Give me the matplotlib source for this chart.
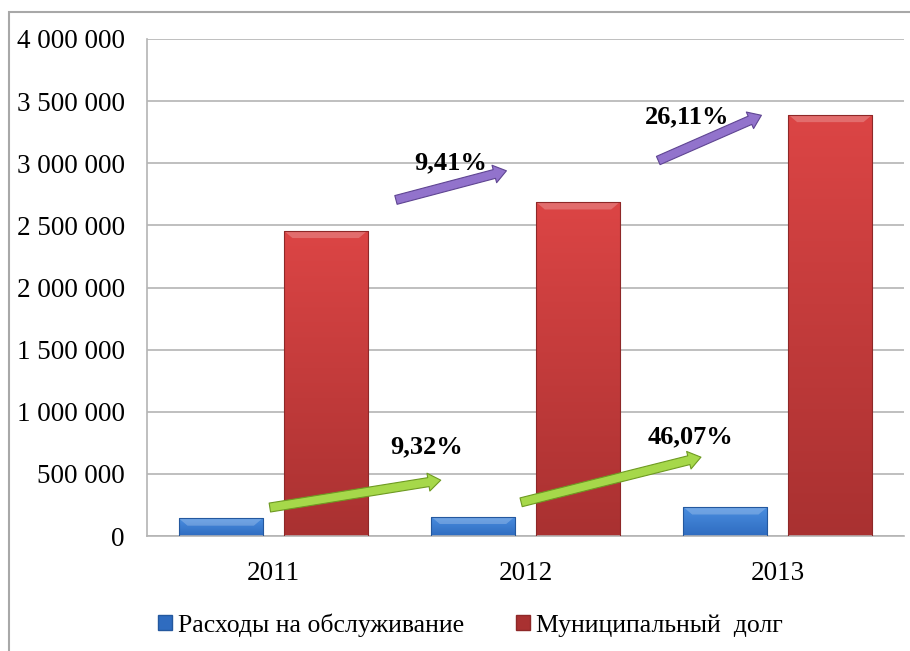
"""Расходы на обслуживание и муниципальный долг, 2011-2013."""

import matplotlib

matplotlib.use("Agg")
import matplotlib.pyplot as plt
import numpy as np
from matplotlib.colors import LinearSegmentedColormap
from matplotlib.patches import FancyArrowPatch, Polygon, Rectangle
from matplotlib.ticker import FuncFormatter, MultipleLocator

plt.rcParams["font.family"] = ["Liberation Serif", "DejaVu Serif"]

# Данные
years = ["2011", "2012", "2013"]
service_costs = [143000, 156500, 233000]
municipal_debt = [2458000, 2688000, 3391000]
series_names = ["Расходы на обслуживание", "Муниципальный  долг"]
debt_growth = ["9,41%", "26,11%"]
cost_growth = ["9,32%", "46,07%"]

# Цвета (сверху вниз для градиента)
blue_top, blue_bottom, blue_edge = "#4a8ee0", "#2f6cc0", "#24589e"
red_top, red_bottom, red_edge = "#dc4545", "#a93131", "#8e2828"
grid_color = "#b4b4b4"

fig = plt.figure(figsize=(9.1, 6.51), dpi=100)
ax = fig.add_axes([147 / 910, 115 / 651, 757 / 910, 497 / 651])

x = np.arange(len(years))
width = 0.333
offset = 0.208


def gradient_bars(xs, values, top, bottom, edge):
    bars = ax.bar(xs, values, width, color="none", edgecolor=edge, linewidth=0.8, zorder=3)
    cmap = LinearSegmentedColormap.from_list("g", [bottom, top])
    grad = np.linspace(0, 1, 256).reshape(-1, 1)
    bevel = 60000  # высота светлой фаски, в единицах оси
    inset = 0.035
    for bar in bars:
        x0, w, h = bar.get_x(), bar.get_width(), bar.get_height()
        img = ax.imshow(grad, cmap=cmap, origin="lower", aspect="auto",
                        extent=(x0, x0 + w, 0, h), zorder=2)
        img.set_clip_path(bar)
        # светлая скошенная фаска сверху
        ax.add_patch(Polygon([(x0, h), (x0 + w, h), (x0 + w - inset, h - bevel),
                              (x0 + inset, h - bevel)],
                             facecolor="white", alpha=0.22, linewidth=0, zorder=2.5))
    return bars


gradient_bars(x - offset, service_costs, blue_top, blue_bottom, blue_edge)
gradient_bars(x + offset, municipal_debt, red_top, red_bottom, red_edge)

ax.set_xlim(-0.5, 2.5)
ax.set_ylim(0, 4000000)
ax.yaxis.set_major_locator(MultipleLocator(500000))
ax.yaxis.set_major_formatter(FuncFormatter(lambda v, _: f"{int(v):,}".replace(",", " ")))
ax.set_xticks(x)
ax.set_xticklabels(years)
ax.tick_params(axis="both", length=0, labelsize=19.5, colors="black")
ax.tick_params(axis="y", pad=16)
ax.tick_params(axis="x", pad=18)
ax.grid(axis="y", color=grid_color, linewidth=1.2, zorder=0)
ax.set_axisbelow(True)
for side in ("top", "right"):
    ax.spines[side].set_visible(False)
for side in ("left", "bottom"):
    ax.spines[side].set_color(grid_color)
    ax.spines[side].set_linewidth(1.2)


# Стрелки прироста
def growth_arrow(start, end, face, edge):
    arrow = FancyArrowPatch(start, end,
                            arrowstyle="simple,head_length=9,head_width=13,tail_width=6.5",
                            facecolor=face, edgecolor=edge, linewidth=0.8, zorder=5,
                            mutation_scale=1)
    ax.add_patch(arrow)


purple, purple_edge = "#9273cc", "#5f4592"
green, green_edge = "#a6d84a", "#6e9a22"

debt_arrows = [((0.476, 2699000), (0.935, 2945000)), ((1.516, 3013000), (1.945, 3395000))]
debt_text_pos = [(0.702, 3005000), (1.639, 3376000)]
cost_arrows = [((-0.024, 225600), (0.675, 453000)), ((0.972, 266000), (1.706, 640000))]
cost_text_pos = [(0.607, 717000), (1.655, 797600)]

for (s, e), label, pos in zip(debt_arrows, debt_growth, debt_text_pos):
    growth_arrow(s, e, purple, purple_edge)
    ax.text(*pos, label, fontsize=19, fontweight="bold", ha="center", va="center", zorder=6)
for (s, e), label, pos in zip(cost_arrows, cost_growth, cost_text_pos):
    growth_arrow(s, e, green, green_edge)
    ax.text(*pos, label, fontsize=19, fontweight="bold", ha="center", va="center", zorder=6)

# Легенда
handles = [Rectangle((0, 0), 1, 1, facecolor=blue_bottom, edgecolor=blue_edge),
           Rectangle((0, 0), 1, 1, facecolor=red_bottom, edgecolor=red_edge)]
fig.legend(handles, series_names, loc="center", bbox_to_anchor=(0.517, 0.04), ncol=2,
           frameon=False, fontsize=18.5, handlelength=0.55, handleheight=0.55,
           handletextpad=0.25, columnspacing=2.0)

# Внешняя рамка
fig.add_artist(Rectangle((9 / 910, -0.2), 1.2, 1.2 + (651 - 12) / 651 - 1.0,
                         transform=fig.transFigure, fill=False, edgecolor="#a8a8a8",
                         linewidth=1.5, clip_on=False))

fig.savefig("out.png", dpi=100)
